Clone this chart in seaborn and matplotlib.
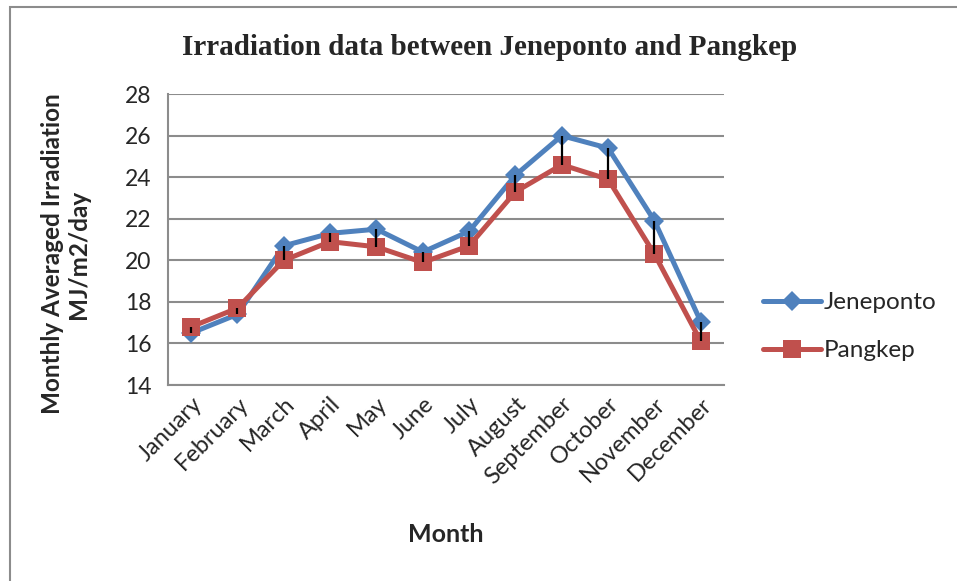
import numpy as np
import pandas as pd
import matplotlib.pyplot as plt
import seaborn as sns
from matplotlib.patches import Rectangle

months = ["January", "February", "March", "April", "May", "June", "July",
          "August", "September", "October", "November", "December"]
jeneponto = [16.5, 17.4, 20.7, 21.3, 21.5, 20.4, 21.4, 24.1, 26.0, 25.4, 21.9, 17.05]
pangkep = [16.8, 17.7, 20.0, 20.9, 20.65, 19.9, 20.7, 23.3, 24.6, 23.9, 20.3, 16.1]

df = pd.DataFrame({
    "Month": months * 2,
    "Irradiation": jeneponto + pangkep,
    "Site": ["Jeneponto"] * 12 + ["Pangkep"] * 12,
})

sns.set_style("white")
plt.rcParams['font.family'] = ['Lato', 'DejaVu Sans']

fig = plt.figure(figsize=(9.57, 5.81), dpi=100)
ax = fig.add_axes([0.1755, 0.3373, 0.581, 0.5007])

sns.lineplot(data=df, x="Month", y="Irradiation", hue="Site", style="Site",
             palette={"Jeneponto": "#4F81BD", "Pangkep": "#C0504D"},
             markers={"Jeneponto": "D", "Pangkep": "s"}, dashes=False,
             linewidth=3.6, markersize=10, markeredgewidth=0, ax=ax)
for ln in ax.lines:
    if ln.get_marker() == "s":
        ln.set_markersize(13)

# high-low lines between the two series
lo = np.minimum(jeneponto, pangkep)
hi = np.maximum(jeneponto, pangkep)
ax.vlines(np.arange(len(months)), lo, hi, color="black", linewidth=1.6, zorder=5)

ax.set_ylim(14, 28)
ax.set_yticks(range(14, 29, 2))
ax.set_xlim(-0.5, 11.5)
ax.yaxis.grid(True, color="#8c8c8c", linewidth=1.5)
ax.set_axisbelow(True)
for s in ["top", "right"]:
    ax.spines[s].set_visible(False)
ax.spines["left"].set_color("#8c8c8c")
ax.spines["left"].set_linewidth(1.5)
ax.spines["bottom"].set_color("#8c8c8c")
ax.spines["bottom"].set_linewidth(1.5)
ax.tick_params(axis="y", length=6, width=1.5, color="#8c8c8c", labelsize=16.5, pad=6)
ax.tick_params(axis="x", length=0, labelsize=17, pad=6)
plt.setp(ax.get_xticklabels(), rotation=45, ha="right", rotation_mode="anchor")

ax.set_xlabel("Month", fontsize=18, fontweight="bold")
ax.xaxis.set_label_coords(0.5, -0.475)
ax.set_ylabel("Monthly Averaged Irradiation\nMJ/m2/day", fontsize=17.5,
              fontweight="bold", linespacing=1.15)
ax.yaxis.set_label_coords(-0.14, 0.45)
fig.text(490 / 957, 1 - 55 / 581, "Irradiation data between Jeneponto and Pangkep",
         family="Liberation Serif", fontweight="bold", fontsize=21,
         ha="center", va="baseline")

ax.legend(loc="center left", bbox_to_anchor=(1.07, 0.2), frameon=False,
          fontsize=17.5, handlelength=2.4, labelspacing=1.1, handletextpad=0.1,
          borderpad=0, borderaxespad=0)

fig.patches.append(Rectangle((10 / 957, -0.1), 1.2, 1 - 7 / 581 + 0.1,
                             transform=fig.transFigure, fill=False,
                             edgecolor="#8c8c8c", linewidth=1.5))

fig.savefig("out.png", dpi=100)
